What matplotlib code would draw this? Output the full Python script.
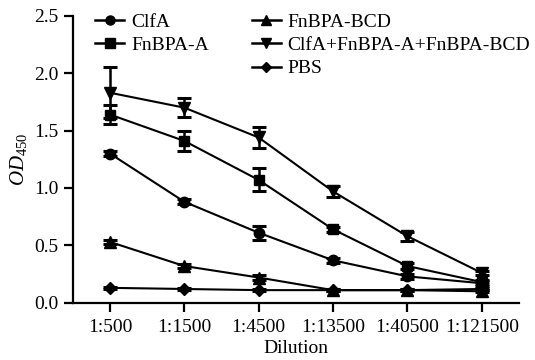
import matplotlib
matplotlib.use("Agg")
import matplotlib.pyplot as plt
from matplotlib.lines import Line2D

plt.rcParams["font.family"] = ["Liberation Serif", "DejaVu Serif"]
plt.rcParams["mathtext.fontset"] = "custom"
plt.rcParams["mathtext.it"] = "Liberation Serif:italic"
plt.rcParams["mathtext.rm"] = "Liberation Serif"

dilutions = ["1:500", "1:1500", "1:4500", "1:13500", "1:40500", "1:121500"]

clfa = [1.30, 0.88, 0.61, 0.37, 0.23, 0.17]
clfa_err = [0.02, 0.02, 0.06, 0.02, 0.02, 0.02]
fnbpa_a = [1.64, 1.41, 1.07, 0.64, 0.32, 0.18]
fnbpa_a_err = [0.08, 0.09, 0.10, 0.02, 0.03, 0.02]
fnbpa_bcd = [0.53, 0.32, 0.22, 0.11, 0.11, 0.10]
fnbpa_bcd_err = [0.02, 0.02, 0.02, 0.01, 0.01, 0.01]
combo = [1.83, 1.70, 1.44, 0.97, 0.58, 0.26]
combo_err = [0.22, 0.08, 0.09, 0.05, 0.04, 0.02]
pbs = [0.13, 0.12, 0.11, 0.11, 0.11, 0.12]
pbs_err = [0.01, 0.01, 0.01, 0.01, 0.01, 0.01]

series = [
    ("ClfA", clfa, clfa_err, "o", 7.5),
    ("FnBPA-A", fnbpa_a, fnbpa_a_err, "s", 7.5),
    ("FnBPA-BCD", fnbpa_bcd, fnbpa_bcd_err, "^", 8),
    ("ClfA+FnBPA-A+FnBPA-BCD", combo, combo_err, "v", 8),
    ("PBS", pbs, pbs_err, "D", 6.5),
]

fig = plt.figure(figsize=(5.35, 3.6), dpi=100)
ax = fig.add_axes([0.136, 0.159, 0.834, 0.797])

x = list(range(len(dilutions)))
handles = {}
for label, values, errors, marker, size in series:
    ax.errorbar(
        x, values, yerr=errors, color="black", linewidth=1.5,
        marker=marker, markersize=size,
        elinewidth=1.8, capsize=5, capthick=2.2,
    )
    handles[label] = Line2D([], [], color="black", linewidth=1.8,
                            marker=marker, markersize=size - 1)

blank = Line2D([], [], color="none")
order = ["ClfA", "FnBPA-A", None, "FnBPA-BCD", "ClfA+FnBPA-A+FnBPA-BCD", "PBS"]
ax.legend(
    [handles[k] if k else blank for k in order],
    [k if k else "" for k in order],
    ncol=2, loc="upper left", bbox_to_anchor=(0.05, 1.01),
    frameon=False, fontsize=14, handlelength=1.5, handletextpad=0.35,
    labelspacing=0.3, columnspacing=2.2, borderaxespad=0, borderpad=0,
)

ax.set_xlim(-0.5, 5.5)
ax.set_ylim(0, 2.5)
ax.set_xticks(x, dilutions)
ax.set_yticks([0, 0.5, 1.0, 1.5, 2.0, 2.5])
ax.set_yticklabels(["0.0", "0.5", "1.0", "1.5", "2.0", "2.5"])
ax.set_xlabel("Dilution", fontsize=14, labelpad=3)
ax.set_ylabel(r"$OD_{\rm 450}$", fontsize=15, labelpad=4)
ax.spines["top"].set_visible(False)
ax.spines["right"].set_visible(False)
for side in ("left", "bottom"):
    ax.spines[side].set_linewidth(1.6)
ax.tick_params(direction="out", length=6.5, width=1.6, labelsize=14)
ax.tick_params(axis="x", pad=5)

fig.savefig("out.png", dpi=100, facecolor="white")
